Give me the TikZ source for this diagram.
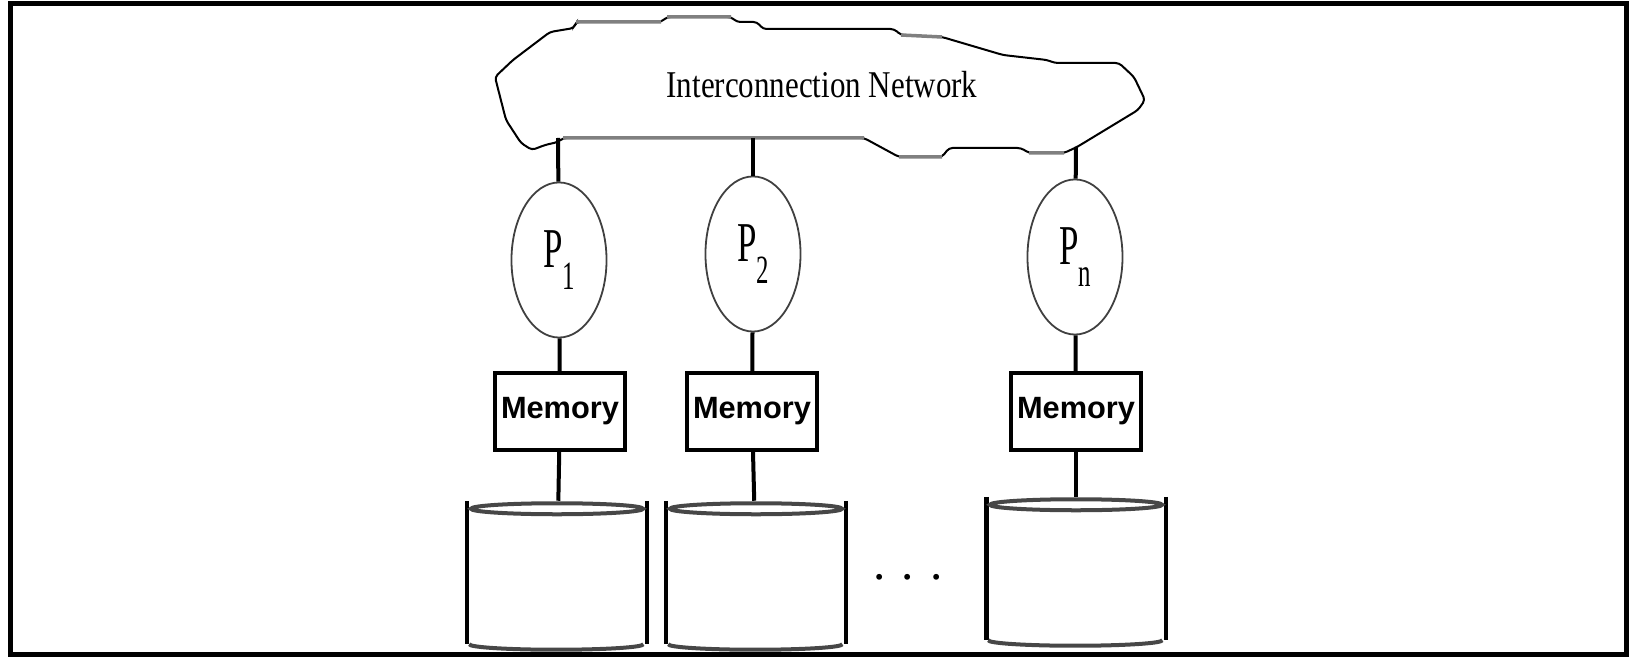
\documentclass[tikz,border=0pt]{standalone}
\usepackage{fontspec}
\setmainfont{Liberation Serif}
\newfontfamily\memfont{Liberation Sans}
\usetikzlibrary{shapes.geometric}

% processor label: tall narrow P with a deep index
\newcommand{\proc}[1]{\scalebox{0.62}[1]{\fontsize{16}{16}\selectfont P\raisebox{-6.3pt}{\fontsize{11.4}{11.4}\selectfont #1}}}

\tikzset{
  link/.style={line width=0.04cm},
  procnode/.style={ellipse,draw=black!75,line width=0.018cm,minimum width=0.95cm,minimum height=1.55cm,inner sep=0pt},
  memnode/.style={draw,line width=0.04cm,minimum width=1.3cm,minimum height=0.77cm,inner sep=0pt,font=\memfont\bfseries\fontsize{8.75}{9}\selectfont},
  disknode/.style={minimum width=1.78cm,minimum height=1.42cm,inner sep=0pt},
  diskside/.style={line width=0.045cm},
  disklid/.style={draw=black!72,line width=0.04cm},
}

\begin{document}
\begin{tikzpicture}[x=0.01cm,y=-0.01cm]
  \useasboundingbox (0,0) rectangle (1629,658);
  \draw[line width=0.05cm] (10.5,4) rectangle (1626,655);

  % network cloud
  \draw[line width=0.02cm,rounded corners=1pt]
    (495,77) -- (513,60) -- (550,32) -- (574,28) -- (576,22) -- (661,22) -- (667,17)
    -- (731,17) -- (737,22) -- (757,22) -- (763,29) -- (894,29) -- (901,35) -- (942,37)
    -- (1003,55) -- (1047,60) -- (1055,63) -- (1119,63) -- (1134,77) -- (1145,100)
    -- (1138,110) -- (1077,147) -- (1064,153) -- (1029,153) -- (1021,148) -- (949,148)
    -- (942,157) -- (899,157) -- (864,138) -- (563,138) -- (558,142) -- (545,145)
    -- (532,150) -- (521,143) -- (506,120) -- cycle;
  \draw[black!50,line width=0.035cm]
    (576,22) -- (661,22) (667,17) -- (731,17) (563,138) -- (864,138)
    (899,157) -- (942,157) (1029,153) -- (1064,153) (901,35) -- (942,37);
  \node (net) at (822,85) {\scalebox{0.82}[1]{\fontsize{10.75}{11}\selectfont Interconnection Network}};

  \coordinate (tap1) at (558,138);
  \coordinate (tap2) at (753,138);
  \coordinate (tapn) at (1076,147);

  \node[procnode] (p1) at (559,260) {\proc{1}};
  \node[procnode] (p2) at (753,254) {\proc{2}};
  \node[procnode] (pn) at (1075,257) {\proc{n}};

  \node[memnode] (m1) at (560,411.5) {Memory};
  \node[memnode] (m2) at (752,411.5) {Memory};
  \node[memnode] (mn) at (1076,411.5) {Memory};

  \node[disknode] (d1) at (557,572.5) {};
  \node[disknode] (d2) at (756,572.5) {};
  \node[disknode] (dn) at (1076,568.5) {};
  \foreach \d in {d1,d2,dn} {
    \draw[diskside] (\d.north west) -- (\d.south west) (\d.north east) -- (\d.south east);
    \draw[disklid] ([yshift=-0.08cm]\d.north) ellipse [x radius=0.86cm, y radius=0.055cm];
    \draw[disklid] ([xshift=0.02cm]\d.south west) arc [start angle=180, end angle=360, x radius=0.87cm, y radius=0.055cm];
  }

  \node[font=\fontsize{14}{14}\selectfont] (dots) at (908,577) {. . .};

  \begin{scope}[link]
    \draw (tap1) to (p1);
    \draw (tap2) to (p2);
    \draw (tapn) to (pn);
    \draw (p1) to (m1);
    \draw (p2) to (m2);
    \draw (pn) to (mn);
    \draw (m1) to (d1);
    \draw (m2) to (d2);
    \draw (mn) to (dn);
  \end{scope}
\end{tikzpicture}
\end{document}
